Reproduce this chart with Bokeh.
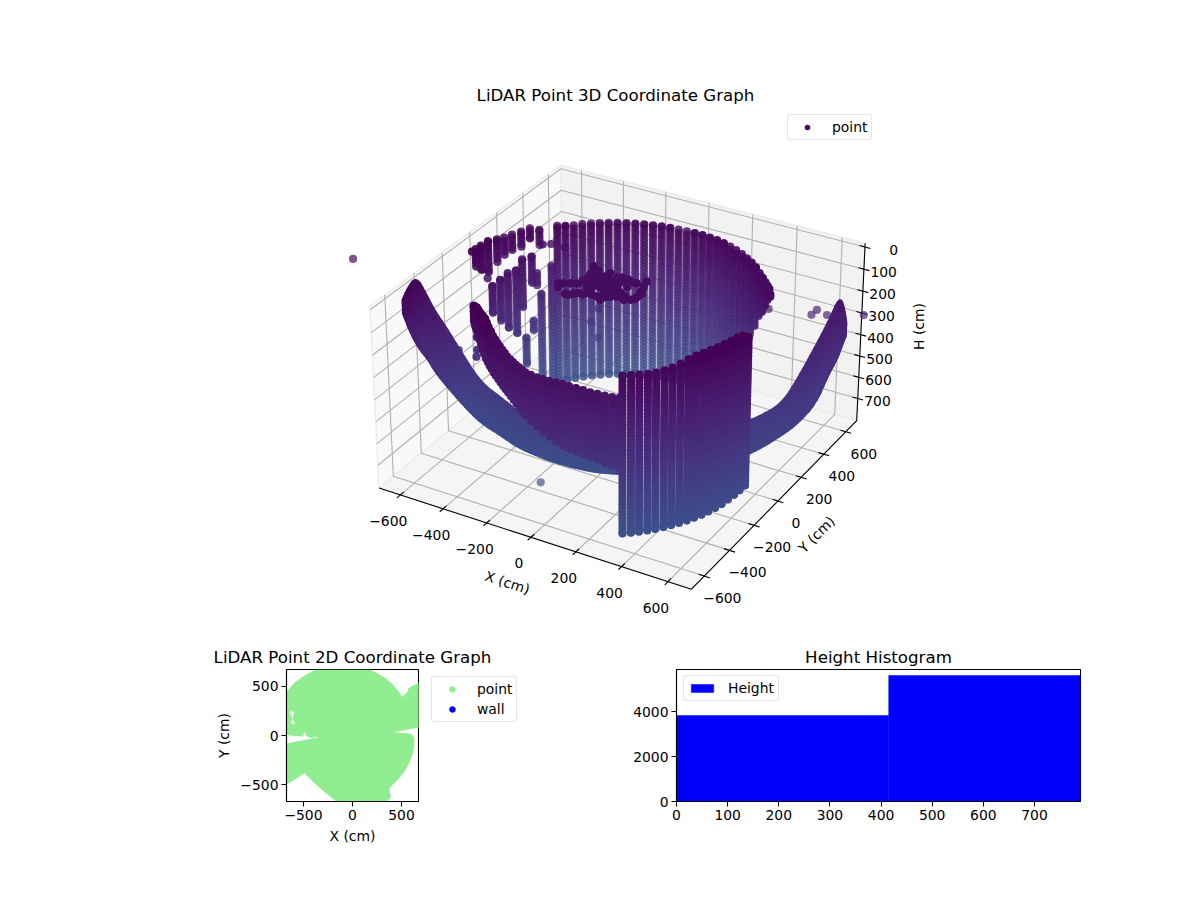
from bokeh.plotting import figure
from bokeh.layouts import column, row
from bokeh.models import (Range1d, ColumnDataSource, LinearColorMapper, Legend, LegendItem,
                          FixedTicker, Spacer)
from bokeh.palettes import Viridis256
from bokeh.core.properties import value
from bokeh.embed import file_html
from bokeh.resources import INLINE
import numpy as np

TITLE_3D = "LiDAR Point 3D Coordinate Graph"
TITLE_2D = "LiDAR Point 2D Coordinate Graph"
TITLE_H = "Height Histogram"
FONT = "DejaVu Sans"

# ---------- values ----------
x_ticks = [-600, -400, -200, 0, 200, 400, 600]
y_ticks = [-600, -400, -200, 0, 200, 400, 600]
h_ticks = [0, 100, 200, 300, 400, 500, 600, 700]
scan_levels = [0, 16, 32, 48, 64, 80, 96, 112, 128, 144, 160, 176, 192, 208, 224, 240, 256, 272, 288, 304,
               320, 336, 352, 368, 384, 400, 416, 432, 448, 464, 480, 496, 512, 528, 544, 560, 576, 592,
               608, 624, 640, 656, 672, 688, 704, 720, 736, 752, 768, 784]

# back of the ring: azimuth (deg), top and bottom height (cm)
back_az = [32, 35.6, 39.2, 42.8, 46.4, 50, 53.6, 57.2, 60.8, 64.4, 68, 71.6, 75.2, 78.8, 82.4, 86, 89.6, 93.2,
           96.8, 100.4, 104, 107.6, 111.2, 114.8, 118.4, 122, 125.6, 129.2, 132.8, 136.4, 140, 143.6, 147.2]
back_top = [85, 80, 87, 89, 88, 86, 78, 74, 71, 68, 66, 64, 63, 62, 62, 62, 63, 64,
            64, 63, 62, 61, 60, 59, 58, 57, 56, 54, 53, 51, 50, 46, 38]
back_bot = [95, 112, 150, 195, 242, 280, 345, 400, 460] + [770] * 24

# partly seen columns at the left of the back of the ring
left_az = [150, 155, 159, 163, 184, 178, 173, 168, 164.5, 159.5, 157]
left_top = [213, 330, 442, 507, 175, 175, 166, 175, 138, 143, 227]
left_bot = [750, 736, 488, 630, 297, 362, 418, 465, 358, 264, 283]

upper_az = [151.7, 155.7, 159.6, 163.9, 167.7, 171.6, 176.7, 181.3, 185]
upper_top = [73, 54, 54, 52, 49, 40, 24, 21, 17]
upper_bot = [143, 100, 124, 122, 128, 143, 164, 129, 96]

# loose points, by azimuth / radius / height
loose_az = [188, 185, 180.6, 177.5, 150, 154, 144, 130, 133, 130, 190, 208, 205, 205]
loose_r = [640, 640, 640, 640, 575, 575, 575, 575, 575, 575, 700, 575, 575, 575]
loose_h = [12, 68, 133, 189, 114, 105, 143, 452, 510, 590, 462, 367, 352, 295]

# single far points
far_x = [-1000, 700, 545, 568, 604, 454, -150]
far_y = [-380, 720, 560, 560, 580, 360, -382]
far_h = [8, 319, 284, 255, 278, 186, 780]

# dark cluster in the middle
cluster_x = [-287, -246, -222, -214, -239, -202, -158, -110, -110, -59, -65, -99, -149, -180, -206, -272, -134,
             -55, -93, -39, -37, -37, 25, 37, 18, -77, -218, -150, -100, -84, -181, -4, 27,
             -270, -220, -193, -159, -124, -78, -34, 1, 35, 39, -21, 5, -212, -209, -173, -128, -163, -156,
             -115, -79, -70, -65, -129, -152, -61, -87, -181, -173, -154]
cluster_y = [-6, 18, 31, 63, 186, 161, 124, 96, 151, 62, -5, -24, -17, -35, -68, -33, 83,
             1, 161, 147, 103, 48, 20, 55, 134, -39, 125, 55, 39, 66, 46, 31, 94,
             4, -67, -51, -32, -21, -21, 13, 6, 35, 82, 148, 181, 138, 94, 133, 96, 93, 34,
             120, 105, 138, 159, 50, 144, 34, 1, 101, 24, 171]
cluster_h = [100] * len(cluster_x)

# inner arc at the front left: azimuth, radius, top, bottom
band_az = [225, 226.5, 228, 229.5, 231, 232.5, 234, 235.5, 237, 238.5, 240, 241.5, 243, 244.5, 246, 247.5, 249,
           250.5, 252, 253.5, 255, 256.5, 258, 259.5, 261, 262.5, 264, 266.5, 269, 271.5, 274, 276.5, 279, 281.5,
           284, 286.5, 289, 291.5, 294, 296.5, 299]
band_r = [590, 591, 592, 593, 594, 595, 596, 597, 598, 599, 600, 601, 602, 603, 604, 605, 606,
          607, 608, 609.5, 611, 612.5, 614, 615, 616, 617, 618, 620, 621, 622, 623, 624, 625, 626,
          627, 628, 629, 629, 630, 630, 630]
band_top = [39, 33, 28, 21, 15, 14, 14, 14, 14, 14, 14, 24, 35, 46, 58, 66, 74,
            82, 90, 97, 105, 110, 115, 120, 124, 129, 134, 135, 136, 136, 136, 135, 135, 138,
            142, 146, 151, 155, 160, 165, 168]
band_bot = [105, 110, 115, 118, 122, 131, 140, 152, 165, 177, 189, 197, 205, 212, 220, 226, 232,
            240, 248, 255, 262, 271, 280, 291, 302, 312, 323, 337, 352, 366, 380, 393, 405, 413,
            420, 426, 435, 445, 456, 466, 475]

# full height wall at the front
front_az = [300, 302.9, 305.7, 308.6, 311.4, 314.3, 317.1, 320, 322.9, 325.7, 328.6, 331.4, 334.3, 337.1, 340,
            342.9, 345.7, 348.6]
front_r = [630] * len(front_az)
front_top = [71, 70, 69, 68, 66, 60, 53, 42, 31, 22, 18, 14, 12, 10, 7, 5, 9, 28]
front_bot = [773, 770, 767, 764, 761, 757, 753, 750, 747, 742, 738, 733, 728, 722, 714, 706, 699, 692]

# left and right shells: station position, top and bottom height
shell_l_x = [-690, -690, -700, -690, -660, -640, -600, -520, -410, -310, -210, -130, -50, 35, 130]
shell_l_y = [-495, -457, -386, -341, -331, -288, -237, -229, -260, -289, -308, -295, -265, -263, -240]
shell_l_top = [54, 19, 7, 98, 171, 257, 395, 510, 530, 550, 584, 622, 673, 683, 705]
shell_l_bot = [112, 207, 323, 392, 452, 529, 631, 698, 705, 715, 713, 729, 745, 738, 728]

shell_r_x = [680, 680, 680, 680, 680, 660, 630, 590, 530]
shell_r_y = [596, 564, 526, 446, 345, 225, 153, 60, 42]
shell_r_top = [300, 206, 155, 216, 270, 376, 462, 480, 520]
shell_r_bot = [360, 389, 430, 468, 546, 582, 605, 625, 670]

# 2D outline of the covered ground
outline_x = [-679, -630, -575, -470, -370, 180, 260, 335, 400, 455, 507, 565, 575, 679, 679, 387, 600, 627, 625,
             610, 575, 524, 450, 370, 387, 352, -163, -230, -301, -400, -490, -679, -679, -335, -350, -430, -466,
             -484, -510, -679]
outline_y = [429, 490, 548, 620, 667, 667, 625, 582, 525, 463, 388, 446, 480, 537, 88, 31, 14, -31, -110,
             -184, -280, -371, -460, -541, -626, -670, -670, -615, -558, -470, -381, -500, -88, -20, -7, -20, -3,
             48, -7, 10]
hole_x = [-648, -590, -607, -583, -635, -618]
hole_y = [258, 241, 173, 115, 112, 173]

# histogram
hist_edges = [0, 415, 790]
hist_counts = [3820, 5600]

# ---------- view of the 3D box ----------
XL = 700.0
H_MID, H_HALF = 395.0, 411.5
HX, HZ = 0.621, 0.362
SCALE = 286.5
CX, CY = 622.0, 365.0
H_TOP, H_BOT = H_MID - H_HALF, H_MID + H_HALF


def project(x, y, h):
    x, y, h = np.asarray(x, float), np.asarray(y, float), np.asarray(h, float)
    px, py = x / XL * HX, y / XL * HX
    pz = (H_MID - h) / H_HALF * HZ
    u = 0.866025 * px + 0.5 * py
    v = -0.25 * px + 0.433013 * py + 0.866025 * pz
    d = 0.433013 * px - 0.75 * py + 0.5 * pz
    s = 10.0 / (10.0 - d)
    return u * s, v * s, d


def columns(az, r, top, bot):
    xs, ys, hs = [], [], []
    for a, rr, t, b in zip(az, r, top, bot):
        lv = [t] + [l for l in scan_levels if t < l < b] + [b]
        for l in lv:
            xs.append(rr * np.cos(np.radians(a)))
            ys.append(rr * np.sin(np.radians(a)))
            hs.append(l)
    return xs, ys, hs


mapper = LinearColorMapper(palette=Viridis256, low=0, high=3100)


def point_source(x, y, h):
    u, v, d = project(x, y, h)
    order = np.argsort(d)
    alpha = np.clip(0.95 + 0.55 * d, 0.5, 1.0)
    return ColumnDataSource(dict(u=u[order], v=v[order], h=np.asarray(h, float)[order], a=alpha[order]))


p3 = figure(width=1192, height=620, output_backend="svg", toolbar_location=None,
            x_range=Range1d((38 - CX) / SCALE, (1192 - CX) / SCALE),
            y_range=Range1d((CY - 620) / SCALE, (CY - 105) / SCALE),
            x_axis_location=None, y_axis_location=None,
            min_border_left=38, min_border_right=0, min_border_top=105, min_border_bottom=0,
            title=TITLE_3D)
p3.grid.visible = False
p3.outline_line_color = None
p3.title.align = "center"
p3.title.text_font = FONT
p3.title.text_font_size = "16.67px"
p3.title.text_font_style = "normal"
p3.title.text_color = "black"
p3.title.standoff = 2

# panes
panes = [([-XL, -XL, -XL, -XL], [-XL, -XL, XL, XL], [H_BOT, H_TOP, H_TOP, H_BOT], "#f9f9f9"),
         ([-XL, XL, XL, -XL], [XL, XL, XL, XL], [H_TOP, H_TOP, H_BOT, H_BOT], "#f2f2f2"),
         ([-XL, XL, XL, -XL], [-XL, -XL, XL, XL], [H_BOT, H_BOT, H_BOT, H_BOT], "#f5f5f5")]
for x, y, h, c in panes:
    u, v, _ = project(x, y, h)
    p3.patch(u, v, fill_color=c, line_color="#ececec", line_width=1.5)

# grid
gu, gv = [], []
for t in x_ticks:
    u, v, _ = project([t, t, t], [-XL, XL, XL], [H_BOT, H_BOT, H_TOP])
    gu.append(list(u)); gv.append(list(v))
for t in y_ticks:
    u, v, _ = project([XL, -XL, -XL], [t, t, t], [H_BOT, H_BOT, H_TOP])
    gu.append(list(u)); gv.append(list(v))
for t in h_ticks:
    u, v, _ = project([-XL, -XL, XL], [-XL, XL, XL], [t, t, t])
    gu.append(list(u)); gv.append(list(v))
p3.multi_line(gu, gv, line_color="#b0b0b0", line_width=1.1)

# axis lines
u, v, _ = project([-XL, XL, XL, XL], [-XL, -XL, XL, XL], [H_BOT, H_BOT, H_BOT, H_TOP])
p3.line(u, v, line_color="black", line_width=1.1)

# ticks
TICK = 24
seg = []
for t in x_ticks:
    seg.append(([t, t], [-XL - TICK, -XL + TICK], [H_BOT, H_BOT]))
for t in y_ticks:
    seg.append(([XL - TICK, XL + TICK], [t, t], [H_BOT, H_BOT]))
for t in h_ticks:
    seg.append(([XL - TICK, XL + TICK], [XL, XL], [t, t]))
su, sv = [], []
for x, y, h in seg:
    u, v, _ = project(x, y, h)
    su.append(list(u)); sv.append(list(v))
p3.multi_line(su, sv, line_color="black", line_width=1.1)


def fmt(t):
    return str(t).replace("-", "\u2212")


def labels(u, v, text, dx, dy, align="center"):
    p3.text(u, v, text=text, x_offset=dx, y_offset=dy, text_font=value(FONT), text_font_size="13.9px",
            text_align=align, text_baseline="middle", text_color="black")


u, v, _ = project(x_ticks, [-XL] * 7, [H_BOT] * 7)
labels(u, v, [fmt(t) for t in x_ticks], -12, 26)
u, v, _ = project([XL] * 7, y_ticks, [H_BOT] * 7)
labels(u, v, [fmt(t) for t in y_ticks], 18, 22)
u, v, _ = project([XL] * 8, [XL] * 8, h_ticks)
labels(u, v, [fmt(t) for t in h_ticks], 33, 3, align="right")


def axis_title(X, Y, txt, deg):
    p3.text([(X - CX) / SCALE], [(CY - Y) / SCALE], text=[txt], angle=np.radians(deg), text_font=value(FONT),
            text_font_size="13.9px", text_align="center", text_baseline="middle", text_color="black")


axis_title(507, 582, "X (cm)", -18)
axis_title(816, 534, "Y (cm)", 45)
axis_title(918, 326, "H (cm)", 90)

pt = dict(size=8.2, line_color=None, fill_color={"field": "h", "transform": mapper})

# back of the ring
x1, y1, h1 = columns(back_az, [575] * len(back_az), back_top, back_bot)
x2, y2, h2 = columns(left_az, [575] * len(left_az), left_top, left_bot)
x3, y3, h3 = columns(upper_az, [640] * len(upper_az), upper_top, upper_bot)
x4 = [r * np.cos(np.radians(a)) for a, r in zip(loose_az, loose_r)]
y4 = [r * np.sin(np.radians(a)) for a, r in zip(loose_az, loose_r)]
src = point_source(x1 + x2 + x3 + x4, y1 + y2 + y3 + y4, h1 + h2 + h3 + loose_h)
p3.scatter("u", "v", source=src, fill_alpha="a", **pt)

fsrc = point_source(far_x, far_y, far_h)
p3.scatter("u", "v", source=fsrc, fill_alpha=0.68, **pt)

csrc = point_source(cluster_x, cluster_y, cluster_h)
cluster_r = p3.scatter("u", "v", source=csrc, size=8.5, line_color=None, fill_color={"field": "h", "transform": mapper})


def round_off(a):
    # corner cutting so that a shell's edge is a curve and not a chain of straight pieces
    a = np.asarray(a, float)
    for _ in range(2):
        q = 0.75 * a[:-1] + 0.25 * a[1:]
        r = 0.25 * a[:-1] + 0.75 * a[1:]
        b = np.empty(2 * len(q))
        b[0::2], b[1::2] = q, r
        a = np.concatenate(([a[0]], b, [a[-1]]))
    return a


# shells as small faces between stations
def shell(sx, sy, top, bot):
    sx, sy, top, bot = round_off(sx), round_off(sy), round_off(top), round_off(bot)
    parts = [0, 0.2, 0.4, 0.6, 0.8, 1.0]
    xs, ys, hs = [], [], []
    for i in range(len(sx) - 1):
        for f0, f1 in zip(parts[:-1], parts[1:]):
            hh = [top[i] + f0 * (bot[i] - top[i]), top[i + 1] + f0 * (bot[i + 1] - top[i + 1]),
                  top[i + 1] + f1 * (bot[i + 1] - top[i + 1]), top[i] + f1 * (bot[i] - top[i])]
            u, v, _ = project([sx[i], sx[i + 1], sx[i + 1], sx[i]], [sy[i], sy[i + 1], sy[i + 1], sy[i]], hh)
            xs.append(list(u)); ys.append(list(v)); hs.append(sum(hh) / 4)
    cm = {"field": "h", "transform": mapper}
    p3.patches("xs", "ys", source=ColumnDataSource(dict(xs=xs, ys=ys, h=hs)), fill_color=cm, line_color=cm,
               line_width=3, line_join="round")


shell(shell_l_x, shell_l_y, shell_l_top, shell_l_bot)
shell(shell_r_x, shell_r_y, shell_r_top, shell_r_bot)

# front arcs
x5, y5, h5 = columns(band_az, band_r, band_top, band_bot)
x6, y6, h6 = columns(front_az, front_r, front_top, front_bot)
src = point_source(x5 + x6, y5 + y6, h5 + h6)
p3.scatter("u", "v", source=src, fill_alpha="a", **pt)

leg_style = dict(border_line_color="#cccccc", background_fill_alpha=0.8, label_text_font=FONT,
                 label_text_font_size="13.9px", label_text_color="black")

leg3 = Legend(items=[LegendItem(label="point", renderers=[cluster_r])], location=(749, 480), padding=4, margin=0,
              spacing=4, glyph_width=30, glyph_height=14, label_standoff=10, **leg_style)
p3.add_layout(leg3, "center")


def style_axes(p, xt, yt):
    p.grid.visible = False
    p.outline_line_color = "black"
    p.outline_line_width = 1.1
    p.title.align = "center"
    p.title.text_font = FONT
    p.title.text_font_size = "16.67px"
    p.title.text_font_style = "normal"
    p.title.text_color = "black"
    p.title.standoff = 6
    for ax, t in ((p.xaxis, xt), (p.yaxis, yt)):
        ax.ticker = FixedTicker(ticks=t)
        ax.major_label_overrides = {k: fmt(k) for k in t}
        ax.major_label_text_font = FONT
        ax.major_label_text_font_size = "13.9px"
        ax.major_label_text_color = "black"
        ax.axis_label_text_font = FONT
        ax.axis_label_text_font_size = "13.9px"
        ax.axis_label_text_font_style = "normal"
        ax.axis_label_text_color = "black"
        ax.axis_line_color = "black"
        ax.axis_line_width = 1.1
        ax.major_tick_line_color = "black"
        ax.major_tick_line_width = 1.1
        ax.major_tick_out = 5
        ax.major_tick_in = 0
        ax.minor_tick_line_color = None
        ax.major_label_standoff = 3


# ---------- 2D ----------
p2 = figure(width=330, height=272, output_backend="svg", toolbar_location=None, title=TITLE_2D,
            x_range=Range1d(-673, 673), y_range=Range1d(-673, 673),
            min_border_left=86, min_border_right=112, min_border_top=49, min_border_bottom=91,
            x_axis_label="X (cm)", y_axis_label="Y (cm)")
style_axes(p2, [-500, 0, 500], [-500, 0, 500])
p2.multi_polygons(xs=[[[outline_x, hole_x]]], ys=[[[outline_y, hole_y]]], fill_color="#90ee90", line_color="#90ee90")

# the 2D legend lies beside the axes: it gets a transparent figure of its own, laid over the free space
pl = figure(width=112, height=272, output_backend="svg", toolbar_location=None,
            x_range=Range1d(0, 1), y_range=Range1d(0, 1), x_axis_location=None, y_axis_location=None,
            min_border_left=0, min_border_right=0, min_border_top=49, min_border_bottom=91,
            background_fill_alpha=0, border_fill_alpha=0, margin=(0, 0, 0, -112))
pl.grid.visible = False
pl.outline_line_color = None
# each renderer holds one point outside this figure's view, so that only its legend marker shows
point_r = pl.scatter([5], [5], size=9.5, color="#90ee90")
wall_r = pl.scatter([5], [5], size=9.5, color="#0000ff")
leg2 = Legend(items=[LegendItem(label="point", renderers=[point_r]), LegendItem(label="wall", renderers=[wall_r])],
              location=(13, 79), margin=0, padding=4, spacing=4, glyph_width=32, glyph_height=14, label_standoff=9,
              **leg_style)
pl.add_layout(leg2, "center")

# ---------- histogram ----------
ph = figure(width=660, height=272, output_backend="svg", toolbar_location=None, title=TITLE_H,
            x_range=Range1d(0, 790), y_range=Range1d(0, 5867),
            min_border_left=146, min_border_right=110, min_border_top=49, min_border_bottom=91)
style_axes(ph, [0, 100, 200, 300, 400, 500, 600, 700], [0, 2000, 4000])
hist_r = ph.quad(left=hist_edges[:-1], right=hist_edges[1:], top=hist_counts, bottom=0, fill_color="#0000ff",
                 line_color="#0000ff", line_width=0.5)
legh = Legend(items=[LegendItem(label="Height", renderers=[hist_r])], location=(7, 100), padding=4, margin=0,
              glyph_width=28, glyph_height=10, label_standoff=12, **leg_style)
ph.add_layout(legh, "center")

for leg in (leg3, leg2, legh):
    if "border_radius" in leg.properties():
        leg.border_radius = 3

page = column(p3, row(Spacer(width=200, height=272), p2, pl, ph, spacing=0), spacing=0)
open("out.html", "w").write(file_html(page, INLINE))
